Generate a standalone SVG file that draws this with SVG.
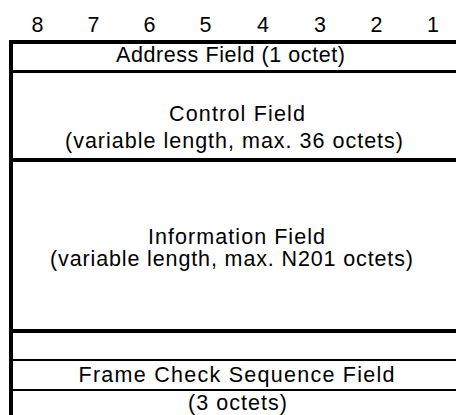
<svg xmlns="http://www.w3.org/2000/svg" width="456" height="415" viewBox="0 0 456 415">
<style>
text{font-family:"Liberation Sans",Arial,sans-serif;font-size:21.5px;fill:#000;text-anchor:middle}
.rule{fill:#000}
</style>
<rect width="456" height="415" fill="#fff"/>
<g id="bit-numbers">
<text x="37.5" y="32">8</text>
<text x="93.5" y="32">7</text>
<text x="149.5" y="32">6</text>
<text x="205.5" y="32">5</text>
<text x="263" y="32">4</text>
<text x="320" y="32">3</text>
<text x="376.5" y="32">2</text>
<text x="433" y="32">1</text>
</g>
<g id="frame-lines">
<rect class="rule" x="9" y="40" width="447" height="4"/>
<rect class="rule" x="9" y="70" width="447" height="3"/>
<rect class="rule" x="9" y="158" width="447" height="4"/>
<rect class="rule" x="9" y="329" width="447" height="4"/>
<rect class="rule" x="9" y="359" width="447" height="2"/>
<rect class="rule" x="9" y="389" width="447" height="2"/>
<rect class="rule" x="9" y="40" width="4" height="375"/>
</g>
<g id="address-field">
<text x="230.5" y="62" textLength="229" lengthAdjust="spacing">Address Field (1 octet)</text>
</g>
<g id="control-field">
<text x="237" y="121" textLength="136" lengthAdjust="spacing">Control Field</text>
<text x="234" y="148" textLength="338" lengthAdjust="spacing">(variable length, max. 36 octets)</text>
</g>
<g id="information-field">
<text x="236.5" y="244" textLength="177" lengthAdjust="spacing">Information Field</text>
<text x="231.5" y="266" textLength="363" lengthAdjust="spacing">(variable length, max. N201 octets)</text>
</g>
<g id="fcs-field">
<text x="236.5" y="382" textLength="316" lengthAdjust="spacing">Frame Check Sequence Field</text>
<text x="237.5" y="410" textLength="99" lengthAdjust="spacing">(3 octets)</text>
</g>
</svg>
